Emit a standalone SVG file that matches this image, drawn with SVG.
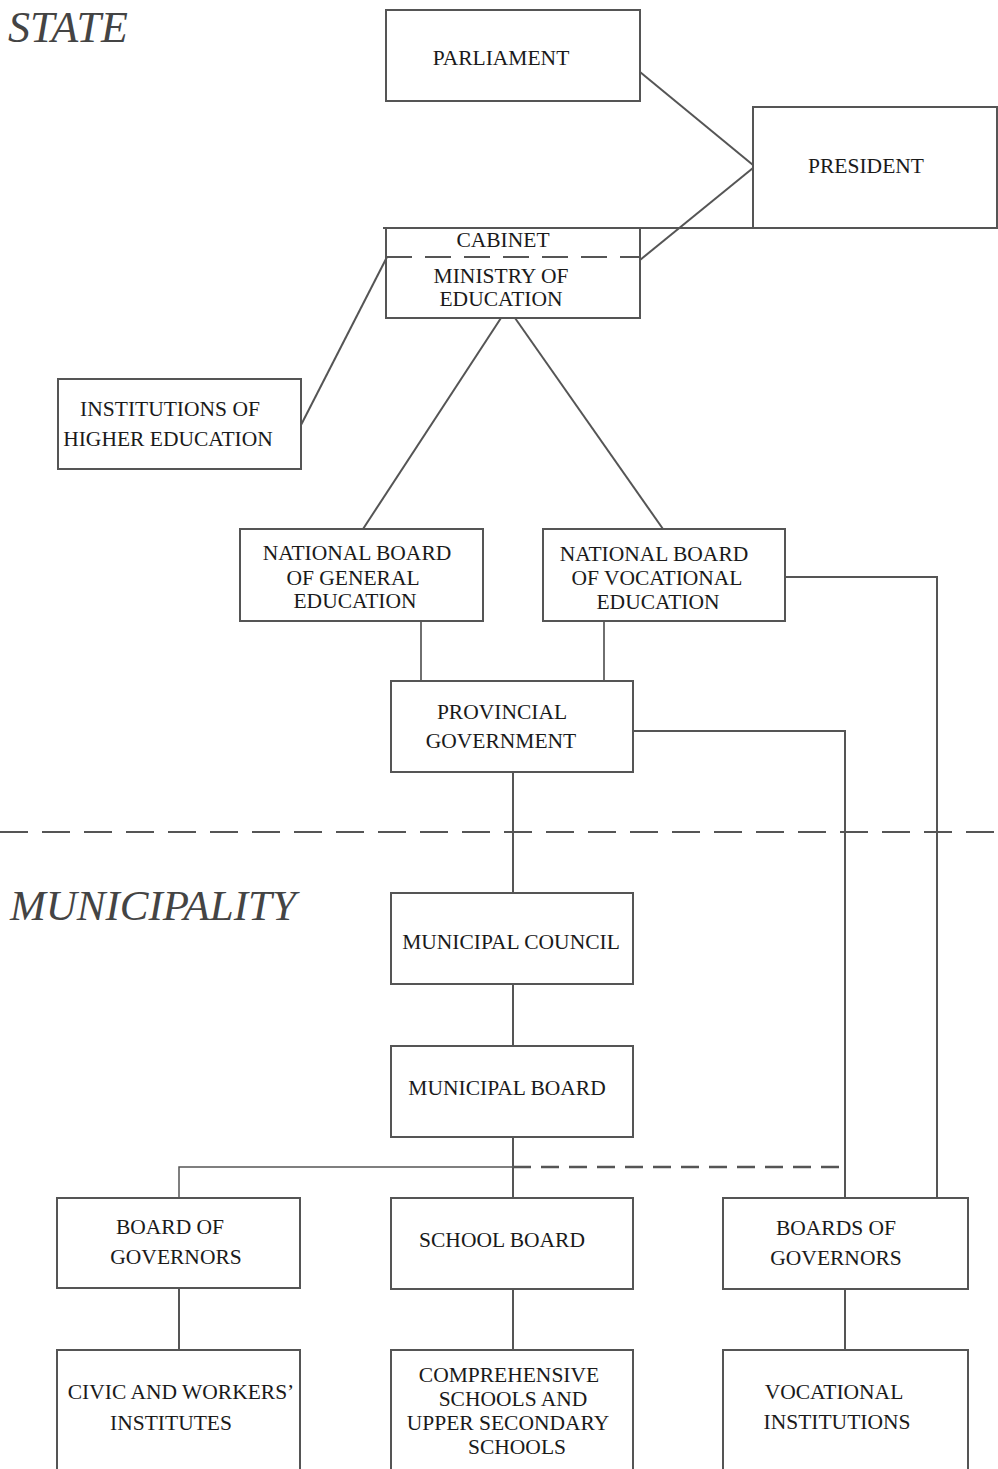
<svg xmlns="http://www.w3.org/2000/svg" width="998" height="1469" viewBox="0 0 998 1469">
<style>
.box{fill:#fff;stroke:#555;stroke-width:2}
.t{font-family:"Liberation Serif","Times New Roman",serif;font-size:21.5px;fill:#1a1a1a;text-anchor:middle}
.big{font-family:"Liberation Serif","Times New Roman",serif;font-size:43px;font-style:italic;fill:#444}
.c{fill:none;stroke:#555;stroke-width:2}
.thin{fill:none;stroke:#222;stroke-width:1.3}
.d{fill:none;stroke:#555;stroke-width:2;stroke-dasharray:28 14}
</style>
<rect width="998" height="1469" fill="#fff"/>
<text class="big" x="8" y="42" style="font-size:44px">STATE</text>
<text class="big" x="10" y="920">MUNICIPALITY</text>
<g id="connectors">
<line class="c" x1="640" y1="72" x2="753" y2="165"/>
<line class="c" x1="753" y1="168" x2="640" y2="260"/>
<line class="c" x1="383" y1="228" x2="998" y2="228"/>
<line class="c" x1="387" y1="257" x2="301" y2="425"/>
<line class="c" x1="501" y1="318" x2="363" y2="529"/>
<line class="c" x1="515" y1="318" x2="663" y2="529"/>
<line class="thin" x1="421" y1="621" x2="421" y2="681"/>
<line class="thin" x1="604" y1="621" x2="604" y2="681"/>
<polyline class="c" points="785,577 937,577 937,1198"/>
<polyline class="c" points="633,731 845,731 845,1198"/>
<line class="c" x1="513" y1="772" x2="513" y2="893"/>
<line class="d" x1="0" y1="832" x2="998" y2="832"/>
<line class="c" x1="513" y1="984" x2="513" y2="1046"/>
<line class="c" x1="513" y1="1137" x2="513" y2="1198"/>
<polyline class="c" points="179,1198 179,1167 513,1167" style="stroke-width:1.5"/>
<line class="c" x1="513" y1="1167" x2="845" y2="1167" style="stroke-dasharray:18 10;stroke-width:2.5"/>
<line class="c" x1="179" y1="1288" x2="179" y2="1350"/>
<line class="c" x1="513" y1="1289" x2="513" y2="1350"/>
<line class="c" x1="845" y1="1289" x2="845" y2="1350"/>
</g>
<g id="parliament">
<rect class="box" x="386" y="10" width="254" height="91"/>
<text class="t" x="501" y="65">PARLIAMENT</text>
</g>
<g id="president">
<path class="c" d="M753,228 V107 H997 V228"/>
<text class="t" x="866" y="173">PRESIDENT</text>
</g>
<g id="cabinet-ministry">
<path class="c" d="M386,228 V318 H640 V228"/>
<line class="c" x1="386" y1="257" x2="640" y2="257" style="stroke-dasharray:26 13"/>
<text class="t" x="503" y="247">CABINET</text>
<text class="t" x="501" y="283">MINISTRY OF</text>
<text class="t" x="501" y="306">EDUCATION</text>
</g>
<g id="higher-ed">
<rect class="box" x="58" y="379" width="243" height="90"/>
<text class="t" x="170" y="416">INSTITUTIONS OF</text>
<text class="t" x="168" y="446">HIGHER EDUCATION</text>
</g>
<g id="nb-general">
<rect class="box" x="240" y="529" width="243" height="92"/>
<text class="t" x="357" y="560">NATIONAL BOARD</text>
<text class="t" x="353" y="585">OF GENERAL</text>
<text class="t" x="355" y="608">EDUCATION</text>
</g>
<g id="nb-vocational">
<rect class="box" x="543" y="529" width="242" height="92"/>
<text class="t" x="654" y="561">NATIONAL BOARD</text>
<text class="t" x="657" y="585">OF VOCATIONAL</text>
<text class="t" x="658" y="609">EDUCATION</text>
</g>
<g id="provincial">
<rect class="box" x="391" y="681" width="242" height="91"/>
<text class="t" x="502" y="719">PROVINCIAL</text>
<text class="t" x="501" y="748">GOVERNMENT</text>
</g>
<g id="municipal-council">
<rect class="box" x="391" y="893" width="242" height="91"/>
<text class="t" x="511" y="949">MUNICIPAL COUNCIL</text>
</g>
<g id="municipal-board">
<rect class="box" x="391" y="1046" width="242" height="91"/>
<text class="t" x="507" y="1095">MUNICIPAL BOARD</text>
</g>
<g id="board-of-governors">
<rect class="box" x="57" y="1198" width="243" height="90"/>
<text class="t" x="170" y="1234">BOARD OF</text>
<text class="t" x="176" y="1264">GOVERNORS</text>
</g>
<g id="school-board">
<rect class="box" x="391" y="1198" width="242" height="91"/>
<text class="t" x="502" y="1247">SCHOOL BOARD</text>
</g>
<g id="boards-of-governors">
<rect class="box" x="723" y="1198" width="245" height="91"/>
<text class="t" x="836" y="1235">BOARDS OF</text>
<text class="t" x="836" y="1265">GOVERNORS</text>
</g>
<g id="civic">
<rect class="box" x="57" y="1350" width="243" height="130"/>
<text class="t" x="181" y="1399">CIVIC AND WORKERS’</text>
<text class="t" x="171" y="1430">INSTITUTES</text>
</g>
<g id="comprehensive">
<rect class="box" x="391" y="1350" width="242" height="130"/>
<text class="t" x="509" y="1382">COMPREHENSIVE</text>
<text class="t" x="513" y="1406">SCHOOLS AND</text>
<text class="t" x="508" y="1430">UPPER SECONDARY</text>
<text class="t" x="517" y="1454">SCHOOLS</text>
</g>
<g id="vocational">
<rect class="box" x="723" y="1350" width="245" height="130"/>
<text class="t" x="834" y="1399">VOCATIONAL</text>
<text class="t" x="837" y="1429">INSTITUTIONS</text>
</g>
</svg>
